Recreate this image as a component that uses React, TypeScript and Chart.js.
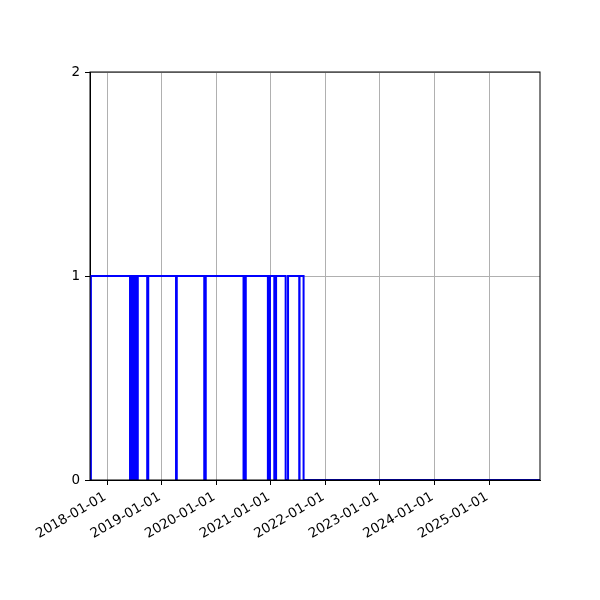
import { useEffect, useRef } from "react";
import { Chart, registerables } from "chart.js";

Chart.register(...registerables);

// change points of the step line (value holds from each date on)
const eventDates = [
    "2017-09-12", "2017-09-14",
    "2018-06-03", "2018-06-05", "2018-06-08", "2018-06-10", "2018-06-13", "2018-06-15",
    "2018-06-18", "2018-06-20", "2018-06-23", "2018-06-25", "2018-06-28", "2018-06-30",
    "2018-07-03", "2018-07-05", "2018-07-08", "2018-07-10", "2018-07-13", "2018-07-15",
    "2018-07-18", "2018-07-20", "2018-07-23", "2018-07-25",
    "2018-09-26", "2018-10-03",
    "2019-04-07", "2019-04-12",
    "2019-10-13", "2019-10-23",
    "2020-07-02", "2020-07-04", "2020-07-15", "2020-07-17",
    "2020-12-12", "2020-12-14", "2020-12-24", "2020-12-26",
    "2021-01-24", "2021-01-26", "2021-02-03", "2021-02-05",
    "2021-04-10", "2021-04-26",
    "2021-07-10", "2021-07-12",
    "2021-08-08", "2025-12-31",
];
const eventValues = [
    0, 1,
    0, 1, 0, 1, 0, 1,
    0, 1, 0, 1, 0, 1,
    0, 1, 0, 1, 0, 1,
    0, 1, 0, 1,
    0, 1,
    0, 1,
    0, 1,
    0, 1, 0, 1,
    0, 1, 0, 1,
    0, 1, 0, 1,
    0, 1,
    0, 1,
    0, 0,
];
const xTickDates = [
    "2018-01-01", "2019-01-01", "2020-01-01", "2021-01-01",
    "2022-01-01", "2023-01-01", "2024-01-01", "2025-01-01",
];
const yTicks = [0, 1, 2];
const xMin = "2017-09-08";
const xMax = "2025-12-08";

const FONT = "'DejaVu Sans', sans-serif";

const fmtDate = (ms: number) => new Date(ms).toISOString().slice(0, 10);

const frame = {
    id: "frame",
    afterDraw(chart: Chart) {
        const { ctx, chartArea: a } = chart;
        ctx.save();
        ctx.strokeStyle = "#000";
        ctx.lineWidth = 1;
        ctx.strokeRect(a.left, a.top, a.right - a.left, a.bottom - a.top);
        ctx.restore();
    },
};

const App = () => {
    const chartRef = useRef<HTMLCanvasElement>(null);
    const chartInstance = useRef<Chart | null>(null);

    useEffect(() => {
        if (!chartRef.current) return;
        if (chartInstance.current) chartInstance.current.destroy();
        const ctx = chartRef.current.getContext("2d");
        if (!ctx) return;

        chartInstance.current = new Chart(ctx, {
            type: "line",
            data: {
                datasets: [
                    {
                        data: eventDates.map((d, i) => ({ x: Date.parse(d), y: eventValues[i] })),
                        borderColor: "#0000ff",
                        borderWidth: 2,
                        pointRadius: 0,
                        stepped: true,
                        fill: false,
                    },
                ],
            },
            options: {
                responsive: false,
                animation: false,
                layout: { padding: { left: 0, top: 72, right: 60, bottom: 0 } },
                plugins: {
                    legend: { display: false },
                    tooltip: { enabled: false },
                },
                scales: {
                    x: {
                        type: "linear",
                        min: Date.parse(xMin),
                        max: Date.parse(xMax),
                        afterBuildTicks: (scale: any) => {
                            scale.ticks = xTickDates.map(d => ({ value: Date.parse(d) }));
                        },
                        afterFit: (scale: any) => { scale.height = 120; },
                        ticks: {
                            minRotation: 30,
                            maxRotation: 30,
                            autoSkip: false,
                            padding: 4,
                            labelOffset: -2,
                            color: "#000",
                            font: { family: FONT, size: 13.5 },
                            callback: (v: any) => fmtDate(Number(v)),
                        },
                        grid: { color: "#b0b0b0", lineWidth: 1, tickColor: "#000", tickLength: 5 },
                        border: { color: "#000", width: 1 },
                    },
                    y: {
                        min: 0,
                        max: 2,
                        afterBuildTicks: (scale: any) => {
                            scale.ticks = yTicks.map(v => ({ value: v }));
                        },
                        afterFit: (scale: any) => { scale.width = 90; },
                        ticks: {
                            padding: 5,
                            color: "#000",
                            font: { family: FONT, size: 13.5 },
                            callback: (v: any) => String(v),
                        },
                        grid: { color: "#b0b0b0", lineWidth: 1, tickColor: "#000", tickLength: 5 },
                        border: { color: "#000", width: 1 },
                    },
                },
            },
            plugins: [frame],
        });

        return () => {
            if (chartInstance.current) {
                chartInstance.current.destroy();
                chartInstance.current = null;
            }
        };
    }, []);

    return (
        <div style={{ position: "absolute", left: 0, top: 0, width: 600, height: 600, background: "#fff" }}>
            <canvas ref={chartRef} width={600} height={600}></canvas>
        </div>
    );
};

export default App;
